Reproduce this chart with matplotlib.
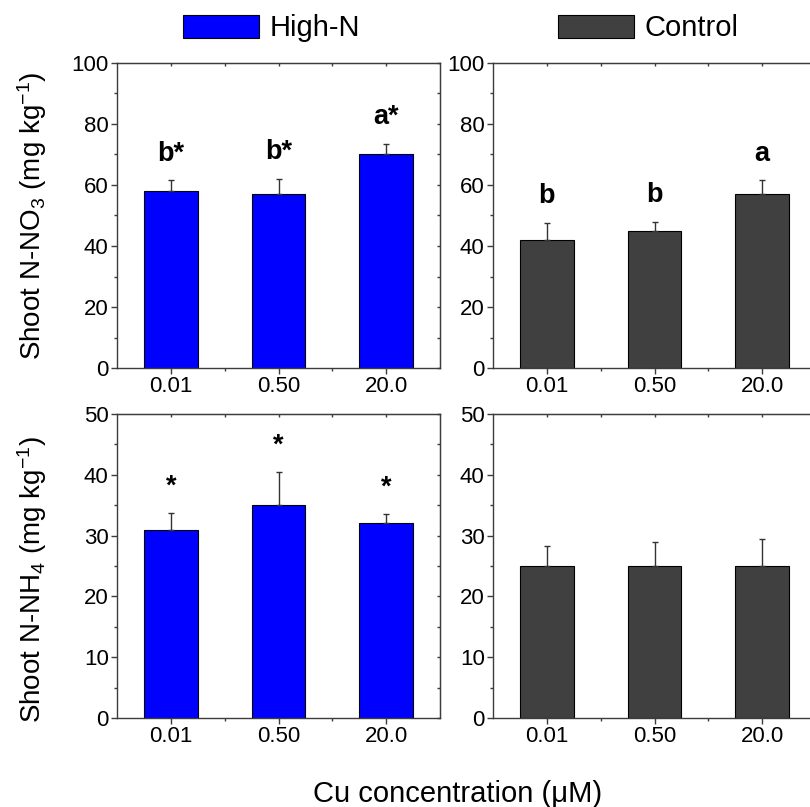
import numpy as np
import matplotlib.pyplot as plt
from matplotlib.ticker import MultipleLocator, FixedLocator

plt.rcParams['font.family'] = ['Liberation Sans', 'DejaVu Sans']
plt.rcParams['mathtext.fontset'] = 'custom'
plt.rcParams['mathtext.rm'] = 'Liberation Sans'
plt.rcParams['mathtext.it'] = 'Liberation Sans:italic'
plt.rcParams['mathtext.bf'] = 'Liberation Sans:bold'

# data
cu_levels = ["0.01", "0.50", "20.0"]
groups = ["High-N", "Control"]

no3_highn = [58, 57, 70]
no3_highn_err = [3.5, 5.0, 3.5]
no3_highn_lbl = ["b*", "b*", "a*"]
no3_ctrl = [42, 45, 57]
no3_ctrl_err = [5.7, 3.0, 4.6]
no3_ctrl_lbl = ["b", "b", "a"]

nh4_highn = [31, 35, 32]
nh4_highn_err = [2.7, 5.4, 1.5]
nh4_highn_lbl = ["*", "*", "*"]
nh4_ctrl = [25, 25, 25]
nh4_ctrl_err = [3.3, 3.9, 4.4]
nh4_ctrl_lbl = ["", "", ""]

COLORS = {"High-N": "#0000ff", "Control": "#404040"}
AX_COLOR = "#3c3c3c"
W, H = 810, 807


def px_axes(fig, left, top, right, bottom):
    return fig.add_axes([left / W, 1 - bottom / H, (right - left) / W, (bottom - top) / H])


def draw_panel(ax, vals, errs, labels, group, ymax, ystep):
    x = np.arange(1, len(cu_levels) + 1)
    bars = ax.bar(x, vals, width=0.5, color=COLORS[group], edgecolor="black",
                  linewidth=0.8, zorder=2, label=group)
    ax.errorbar(x, vals, yerr=[np.zeros(len(errs)), errs], fmt="none",
                ecolor="#333333", elinewidth=1.0, capsize=2.5, capthick=1.0, zorder=3)
    for xi, v, e, lbl in zip(x, vals, errs, labels):
        if lbl:
            ax.annotate(lbl, (xi, v + e), xytext=(0, 14), textcoords="offset points",
                        ha="center", va="baseline", fontsize=19.5, fontweight="bold")

    ax.set_xlim(0.5, 3.5)
    ax.set_ylim(0, ymax)
    ax.set_xticks(x, cu_levels)
    ax.xaxis.set_minor_locator(FixedLocator([1.5, 2.5]))
    ax.yaxis.set_major_locator(MultipleLocator(ystep))
    ax.yaxis.set_minor_locator(MultipleLocator(ystep / 2))
    ax.tick_params(which="major", direction="out", length=4, width=1, color=AX_COLOR,
                   labelsize=16, pad=2)
    ax.tick_params(which="minor", direction="out", length=2.2, width=1, color=AX_COLOR)
    for sp in ax.spines.values():
        sp.set_color(AX_COLOR)
        sp.set_linewidth(1.0)

    # inward ticks on the top and right frame lines
    top = ax.secondary_xaxis("top")
    top.set_xticks(x, ["", "", ""])
    top.xaxis.set_minor_locator(FixedLocator([1.5, 2.5]))
    top.tick_params(which="both", direction="in", length=2.5, width=1, color=AX_COLOR)
    top.spines["top"].set_color(AX_COLOR)
    right = ax.secondary_yaxis("right")
    right.yaxis.set_major_locator(MultipleLocator(ystep))
    right.yaxis.set_minor_locator(MultipleLocator(ystep / 2))
    right.tick_params(which="both", direction="in", length=2.5, width=1, color=AX_COLOR,
                      labelright=False)
    right.spines["right"].set_color(AX_COLOR)
    return bars


def main() -> None:
    fig = plt.figure(figsize=(W / 100, H / 100), dpi=100)

    ax_tl = px_axes(fig, 117, 63, 440, 368)
    ax_tr = px_axes(fig, 493, 63, 816, 368)
    ax_bl = px_axes(fig, 117, 414, 440, 718)
    ax_br = px_axes(fig, 493, 414, 816, 718)

    bar_hn = draw_panel(ax_tl, no3_highn, no3_highn_err, no3_highn_lbl, "High-N", 100, 20)
    bar_ct = draw_panel(ax_tr, no3_ctrl, no3_ctrl_err, no3_ctrl_lbl, "Control", 100, 20)
    draw_panel(ax_bl, nh4_highn, nh4_highn_err, nh4_highn_lbl, "High-N", 50, 10)
    draw_panel(ax_br, nh4_ctrl, nh4_ctrl_err, nh4_ctrl_lbl, "Control", 50, 10)

    ax_tl.set_ylabel(r"Shoot N-NO$_3$ (mg kg$^{-1}$)", fontsize=20)
    ax_tl.yaxis.set_label_coords(-0.212, 0.5)
    ax_bl.set_ylabel(r"Shoot N-NH$_4$ (mg kg$^{-1}$)", fontsize=20)
    ax_bl.yaxis.set_label_coords(-0.212, 0.454)

    fig.text(458 / W, 1 - 802 / H, "Cu concentration (\u03bcM)", ha="center",
             va="baseline", fontsize=21)

    for bars, grp, left in [(bar_hn, groups[0], 183), (bar_ct, groups[1], 558)]:
        fig.legend([bars], [grp], loc="center left", bbox_to_anchor=(left / W, 1 - 28.5 / H),
                   frameon=False, borderpad=0, borderaxespad=0, handlelength=2.6,
                   handleheight=0.8, handletextpad=0.38, fontsize=21)

    fig.savefig("out.png", dpi=100)
    plt.close(fig)


if __name__ == "__main__":
    main()
